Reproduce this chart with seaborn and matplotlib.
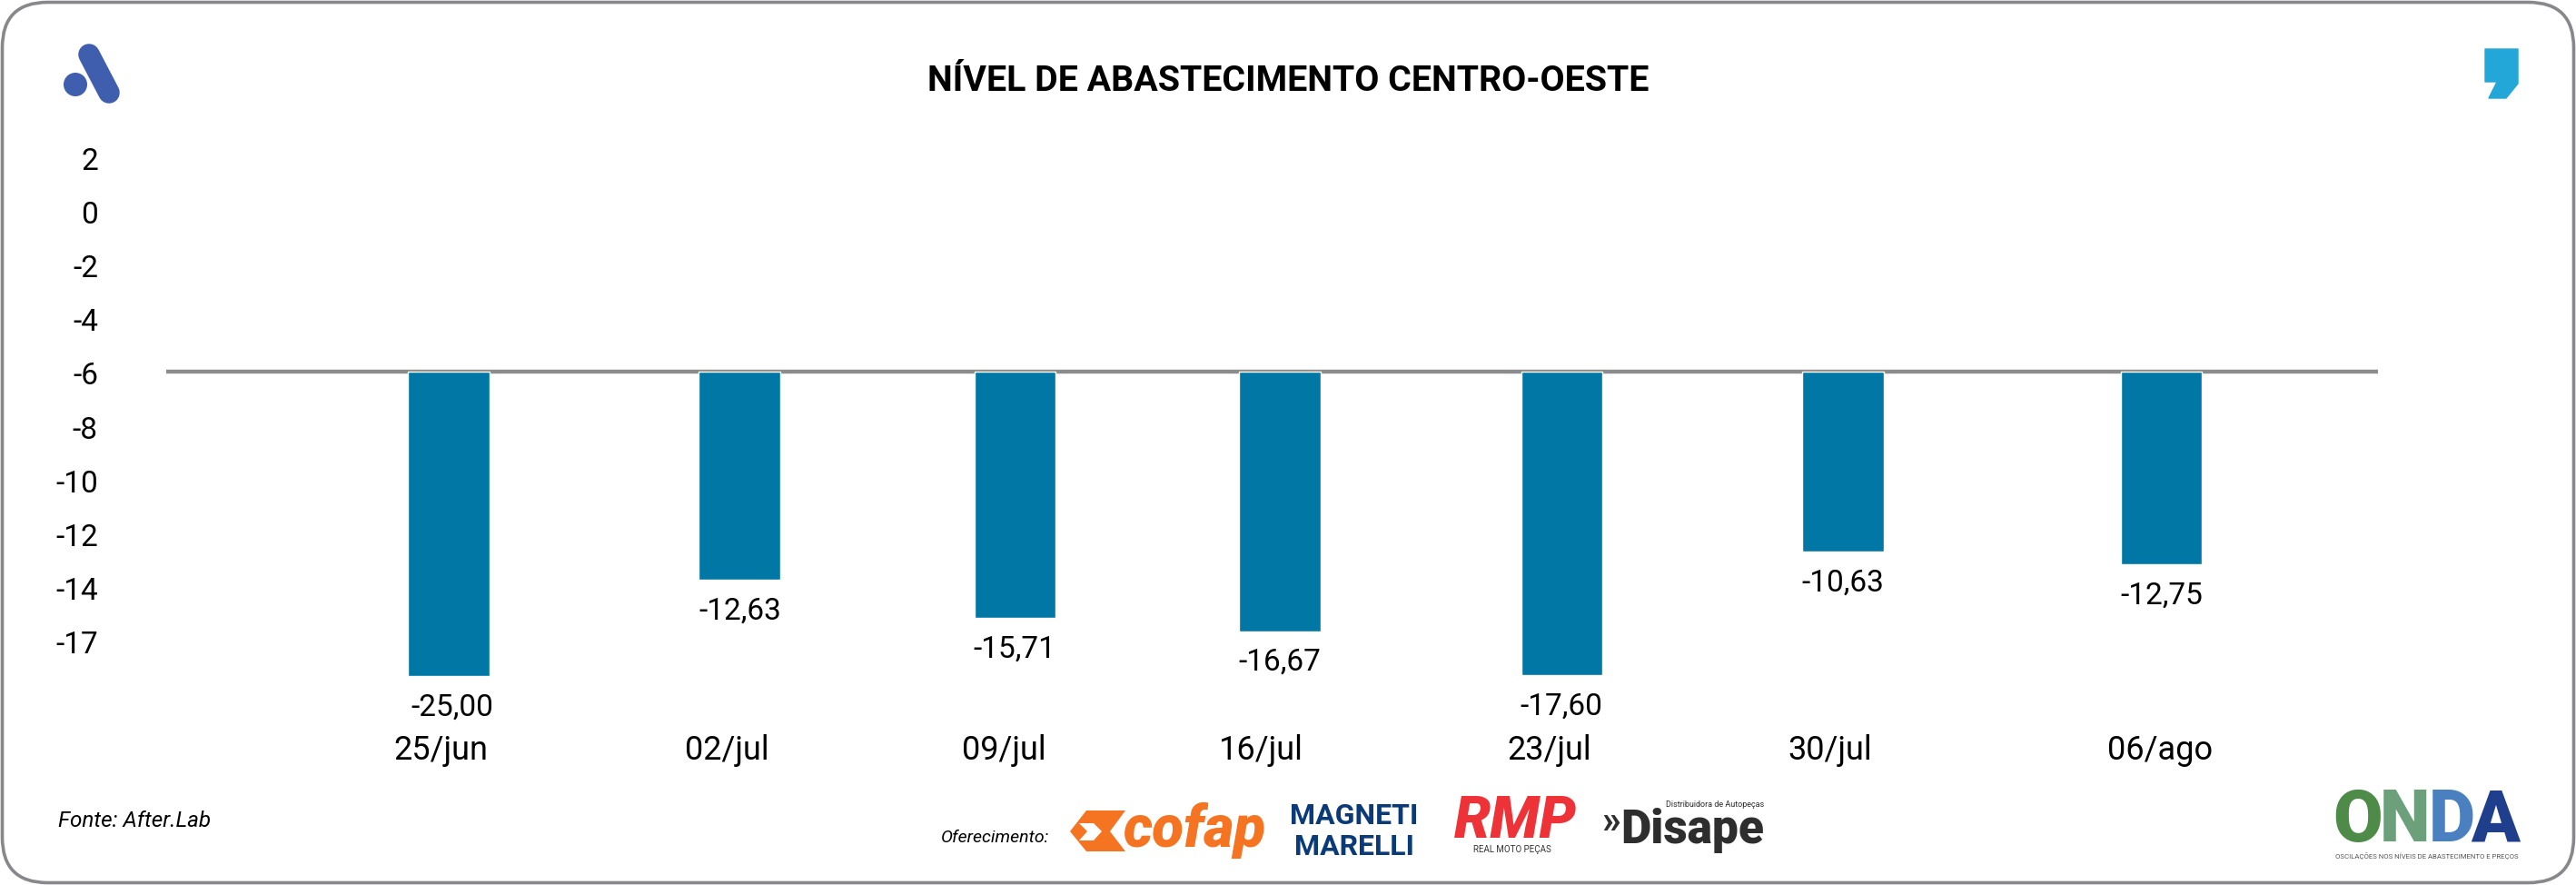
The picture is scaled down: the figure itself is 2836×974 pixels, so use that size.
import matplotlib
matplotlib.use("Agg")
import matplotlib.pyplot as plt
from matplotlib.patches import Circle, FancyBboxPatch, Polygon
from matplotlib.transforms import ScaledTranslation
import pandas as pd
import seaborn as sns

# values (the printed labels do not follow the axis in the original)
dates = ["25/jun", "02/jul", "09/jul", "16/jul", "23/jul", "30/jul", "06/ago"]
bar_values = [-17.32, -13.74, -15.16, -15.65, -17.30, -12.69, -13.16]
bar_labels = ["-25,00", "-12,63", "-15,71", "-16,67", "-17,60", "-10,63", "-12,75"]
y_ticks = [2, 0, -2, -4, -6, -8, -10, -12, -14, -16]
y_tick_labels = ["2", "0", "-2", "-4", "-6", "-8", "-10", "-12", "-14", "-17"]
baseline = -6

# the original's bars and labels are not evenly spaced
bar_nudge = [0, 0.02, -0.013, -0.086, -0.096, -0.111, 0.006]
tick_nudge = [-0.027, -0.025, -0.054, -0.15, -0.142, -0.156, 0.0]
label_nudge = [0.013, 0.022, -0.016, -0.086, -0.099, -0.111, 0.006]

blue = "#0077a5"
grey = "#88888c"

sns.set_theme(style="white")
plt.rcParams["font.family"] = ["Roboto", "DejaVu Sans"]

W, H = 2836, 974
fig = plt.figure(figsize=(W / 100, H / 100), dpi=100)
fig.patch.set_facecolor("white")
ax = fig.add_axes([183 / W, 1 - 800 / H, (2618 - 183) / W, (800 - 150) / H])

df = pd.DataFrame({"date": dates, "value": bar_values})
sns.barplot(data=df, x="date", y="value", color=blue, width=0.285, saturation=1, ax=ax, zorder=3)

# bars hang from the -6 line, not from zero
for patch, v, n in zip(ax.patches, bar_values, bar_nudge):
    patch.set_y(baseline)
    patch.set_height(v - baseline)
    patch.set_x(patch.get_x() + n)

ax.axhline(baseline, color="#8c8c8f", lw=3.2, zorder=2)
ax.set_xlim(-0.99, 6.765)
ax.set_ylim(-19.21, 2.75)
ax.set_xlabel("")
ax.set_ylabel("")
ax.set_yticks(y_ticks, y_tick_labels)
ax.set_xticks([i + n for i, n in enumerate(tick_nudge)], dates)
ax.tick_params(axis="y", length=0, pad=54, labelsize=24, labelcolor="black")
ax.tick_params(axis="x", length=0, pad=6, labelsize=26, labelcolor="black")
sns.despine(ax=ax, left=True, bottom=True)
ax.set_facecolor("none")

# y labels sit a little under their gridline in the original
drop = ScaledTranslation(0, -2 / 100, fig.dpi_scale_trans)
for lab in ax.get_yticklabels():
    lab.set_transform(lab.get_transform() + drop)

for i, (v, txt) in enumerate(zip(bar_values, bar_labels)):
    ax.annotate(txt, (i + label_nudge[i], v), xytext=(0, -24.8), textcoords="offset points",
                ha="center", va="center", fontsize=24, color="black")

# frame, title, logos: overlay in pixel coordinates
deco = fig.add_axes([0, 0, 1, 1], zorder=5)
deco.set_xlim(0, W)
deco.set_ylim(H, 0)
deco.axis("off")
deco.patch.set_alpha(0)

deco.add_patch(FancyBboxPatch((2.5, 2.5), W - 5, H - 5, boxstyle="round,pad=0,rounding_size=50",
                              fc="none", ec=grey, lw=2.6))
deco.text(W / 2, 90, "NÍVEL DE ABASTECIMENTO CENTRO-OESTE", ha="center", va="center",
          fontsize=28.4, fontweight="bold", color="black")
deco.text(64, 903, "Fonte: After.Lab", ha="left", va="center", fontsize=17.5, style="italic", color="black")
deco.text(1036, 922, "Oferecimento:", ha="left", va="center", fontsize=14, style="italic", color="black")

# After logo
deco.plot([98, 120], [60, 102], color="#3f5fae", lw=17, solid_capstyle="round")
deco.add_patch(Circle((83, 93), 13, fc="#3f5fae", ec="none"))

# quote logo
deco.add_patch(Polygon([(2736, 54), (2772, 54), (2772, 92), (2759, 108), (2740, 108), (2749, 90), (2736, 90)],
                       closed=True, fc="#23a7d8", ec="#23a7d8", lw=1, joinstyle="round"))

# sponsors
orange = "#f47421"
deco.add_patch(Polygon([(1178, 915), (1196, 892), (1239, 892), (1222, 915), (1239, 937), (1196, 937)],
                       closed=True, fc=orange, ec="none"))
deco.add_patch(Polygon([(1188, 906), (1204, 906), (1213, 915), (1204, 925), (1188, 925), (1197, 915)],
                       closed=True, fc="white", ec="none"))
deco.text(1236, 914, "cofap", ha="left", va="center", fontsize=46, fontweight="black", style="italic", color=orange)

navy = "#0b3a78"
narrow = ["Liberation Sans Narrow", "Roboto"]
deco.text(1491, 898, "MAGNETI", ha="center", va="center", fontsize=23, fontweight="bold", family=narrow, color=navy)
deco.text(1491, 932, "MARELLI", ha="center", va="center", fontsize=23, fontweight="bold", family=narrow, color=navy)

red = "#ee3338"
deco.text(1668, 905, "RMP", ha="center", va="center", fontsize=46, fontweight="black", style="italic", color=red)
deco.text(1665, 935, "REAL MOTO PEÇAS", ha="center", va="center", fontsize=7, color="#333333")

dark = "#2e2e2e"
deco.text(1763, 905, "»", ha="left", va="center", fontsize=30, fontweight="bold", color=dark)
deco.text(1784, 914, "Disape", ha="left", va="center", fontsize=37, fontweight="black", color=dark)
deco.text(1942, 886, "Distribuidora de Autopeças", ha="right", va="center", fontsize=6.5, color=dark)

# ONDA mark
for x, letter, col in zip([2596, 2647, 2699, 2747], "ONDA", ["#4e8a48", "#6ba07a", "#4a80c0", "#1f3f8c"]):
    deco.text(x, 926, letter, ha="center", va="baseline", fontsize=57, fontweight="black", color=col)
deco.text(2672, 942, "OSCILAÇÕES NOS NÍVEIS DE ABASTECIMENTO E PREÇOS", ha="center", va="center",
          fontsize=5.6, color="#555555")

fig.savefig("out.png", dpi=100)
